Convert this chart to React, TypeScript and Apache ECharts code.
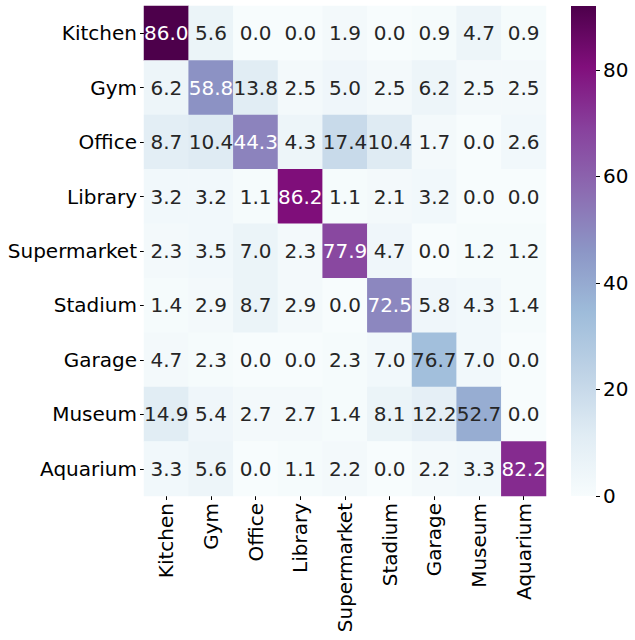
import React, { useEffect, useRef } from "react";
import * as echarts from "echarts";

const categories = ["Kitchen", "Gym", "Office", "Library", "Supermarket", "Stadium", "Garage", "Museum", "Aquarium"];

// Counts (drive the colour) per true-class row
const countKitchen = [92, 6, 0, 0, 2, 0, 1, 5, 1];
const countGym = [5, 47, 11, 2, 4, 2, 5, 2, 2];
const countOffice = [10, 12, 51, 5, 20, 12, 2, 0, 3];
const countLibrary = [3, 3, 1, 81, 1, 2, 3, 0, 0];
const countSupermarket = [2, 3, 6, 2, 67, 4, 0, 1, 1];
const countStadium = [1, 2, 6, 2, 0, 50, 4, 3, 1];
const countGarage = [2, 1, 0, 0, 1, 3, 33, 3, 0];
const countMuseum = [11, 4, 2, 2, 1, 6, 9, 39, 0];
const countAquarium = [3, 5, 0, 1, 2, 0, 2, 3, 74];

// Annotated percentages per row
const pctKitchen = ["86.0", "5.6", "0.0", "0.0", "1.9", "0.0", "0.9", "4.7", "0.9"];
const pctGym = ["6.2", "58.8", "13.8", "2.5", "5.0", "2.5", "6.2", "2.5", "2.5"];
const pctOffice = ["8.7", "10.4", "44.3", "4.3", "17.4", "10.4", "1.7", "0.0", "2.6"];
const pctLibrary = ["3.2", "3.2", "1.1", "86.2", "1.1", "2.1", "3.2", "0.0", "0.0"];
const pctSupermarket = ["2.3", "3.5", "7.0", "2.3", "77.9", "4.7", "0.0", "1.2", "1.2"];
const pctStadium = ["1.4", "2.9", "8.7", "2.9", "0.0", "72.5", "5.8", "4.3", "1.4"];
const pctGarage = ["4.7", "2.3", "0.0", "0.0", "2.3", "7.0", "76.7", "7.0", "0.0"];
const pctMuseum = ["14.9", "5.4", "2.7", "2.7", "1.4", "8.1", "12.2", "52.7", "0.0"];
const pctAquarium = ["3.3", "5.6", "0.0", "1.1", "2.2", "0.0", "2.2", "3.3", "82.2"];

const colorbarTicks = [0, 20, 40, 60, 80];
const vMax = 92;

const countRows = [countKitchen, countGym, countOffice, countLibrary, countSupermarket, countStadium, countGarage, countMuseum, countAquarium];
const pctRows = [pctKitchen, pctGym, pctOffice, pctLibrary, pctSupermarket, pctStadium, pctGarage, pctMuseum, pctAquarium];

const BUPU = ["#f7fcfd", "#e0ecf4", "#bfd3e6", "#9ebcda", "#8c96c6", "#8c6bb1", "#88419d", "#810f7c", "#4d004b"];
const FONT = "DejaVu Sans";

export default function App() {
  const ref = useRef<HTMLDivElement>(null);
  useEffect(() => {
    if (!ref.current) return;
    const chart = echarts.init(ref.current, null, { renderer: "svg" });
    const data: any[] = [];
    countRows.forEach((row, r) => {
      row.forEach((c, col) => {
        data.push({
          value: [col, r, c],
          label: { color: c > 42 ? "#ffffff" : "#262626" },
        });
      });
    });
    const topDown = BUPU.slice().reverse();
    const stops = topDown.map((c, i) => ({ offset: i / (topDown.length - 1), color: c }));
    chart.setOption({
      animation: false,
      backgroundColor: "#ffffff",
      textStyle: { fontFamily: FONT },
      grid: [
        { left: 144, top: 6, width: 402, height: 490 },
        { left: 571, top: 6, width: 25, height: 490 },
      ],
      xAxis: [
        {
          gridIndex: 0,
          type: "category",
          data: categories,
          position: "bottom",
          axisLine: { show: false },
          axisTick: { show: true, length: 4, alignWithLabel: true, lineStyle: { color: "#000" } },
          axisLabel: { rotate: 90, fontSize: 20, color: "#000", margin: 7, fontFamily: FONT, interval: 0 },
          splitLine: { show: false },
        },
        {
          gridIndex: 1,
          type: "category",
          data: [""],
          show: false,
        },
      ],
      yAxis: [
        {
          gridIndex: 0,
          type: "category",
          data: categories,
          inverse: true,
          axisLine: { show: false },
          axisTick: { show: true, length: 4, alignWithLabel: true, lineStyle: { color: "#000" } },
          axisLabel: { fontSize: 20, color: "#000", margin: 7, fontFamily: FONT, interval: 0 },
          splitLine: { show: false },
        },
        {
          gridIndex: 1,
          type: "value",
          min: 0,
          max: vMax,
          interval: 20,
          position: "right",
          axisLine: { show: false },
          axisTick: { show: true, length: 4, lineStyle: { color: "#000" } },
          axisLabel: {
            fontSize: 20,
            color: "#000",
            margin: 7,
            fontFamily: FONT,
            showMaxLabel: false,
            formatter: (v: number) => (colorbarTicks.includes(v) ? String(v) : ""),
          },
          splitLine: { show: false },
        },
      ],
      visualMap: {
        show: false,
        min: 0,
        max: vMax,
        seriesIndex: [0],
        dimension: 2,
        inRange: { color: BUPU },
      },
      series: [
        {
          type: "heatmap",
          xAxisIndex: 0,
          yAxisIndex: 0,
          data,
          label: {
            show: true,
            fontSize: 20,
            fontFamily: FONT,
            formatter: (p: any) => pctRows[p.value[1]][p.value[0]],
          },
          emphasis: { disabled: true },
        },
        {
          type: "bar",
          xAxisIndex: 1,
          yAxisIndex: 1,
          data: [vMax],
          barWidth: "100%",
          itemStyle: {
            color: new echarts.graphic.LinearGradient(0, 0, 0, 1, stops),
          },
          emphasis: { disabled: true },
        },
      ],
    });
    return () => chart.dispose();
  }, []);
  return (
    <div
      ref={ref}
      style={{ position: "fixed", left: 0, top: 0, width: 635, height: 640 }}
    />
  );
}
